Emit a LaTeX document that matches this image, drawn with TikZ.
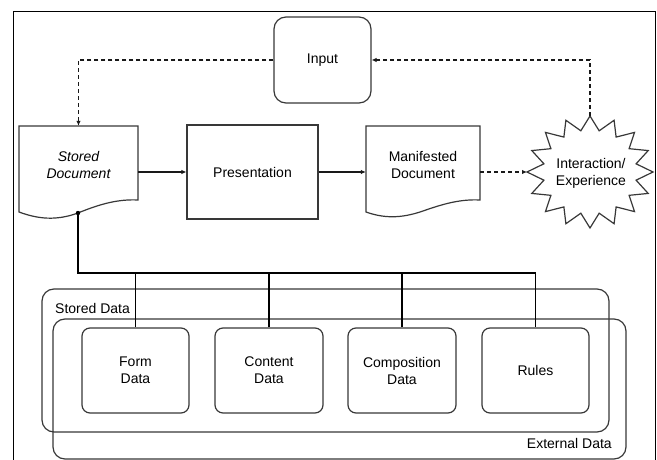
\documentclass[tikz,border=0pt]{standalone}
\usepackage{fontspec}
\setmainfont{Liberation Sans}
\usetikzlibrary{arrows.meta,calc}
\begin{document}
\begin{tikzpicture}[x=1pt,y=-1pt,
  every node/.style={font=\fontsize{14}{17}\selectfont, align=center, inner sep=0pt},
  shp/.style={draw=black!78, line width=1.2pt},
  box/.style={shp, rectangle, rounded corners=8pt},
  conn/.style={draw=black!90, line width=1.1pt, -{Latex[length=5pt,width=4.5pt]}},
  dconn/.style={conn, dash pattern=on 4pt off 3pt},
  bus/.style={draw=black, line width=1.4pt}]
\useasboundingbox (0,0) rectangle (657,460);
\clip (0,0) rectangle (657,460);
% frame
\draw[line width=0.8pt] (13,11) rectangle (655,480);

% top row
\node[box, rounded corners=12pt, minimum width=97pt, minimum height=86pt] (input) at (322.5,60) {Input};
\node[shp, rectangle, minimum width=131pt, minimum height=94pt] (pres) at (252.5,172) {Presentation};

% stored document
\draw[shp] (19,126) -- (138,126) -- (138,200) .. controls (118,199) and (100,204) .. (78,213)
  .. controls (56,221) and (38,219) .. (19,212) -- cycle;
\node[minimum width=119pt, minimum height=92pt] (sd) at (78.5,172) {};
\node[font=\fontsize{14}{17}\selectfont\itshape] (sdt) at (78.5,165) {Stored\\Document};

% manifested document
\draw[shp] (366,126) -- (480,126) -- (480,200) .. controls (460,199) and (443,204) .. (423,211)
  .. controls (400,219) and (383,218) .. (366,212) -- cycle;
\node[minimum width=114pt, minimum height=92pt] (md) at (423,172) {};
\node (mdt) at (423,165) {Manifested\\Document};

% interaction star
\draw[shp] plot[samples at={0,...,31}, variable=\k]
  ({590+ifthenelse(mod(\k,2)==0,63,47)*cos(90+\k*11.25)},
   {172-ifthenelse(mod(\k,2)==0,56,42)*sin(90+\k*11.25)}) -- cycle;
\node (ie) at (591,173) {Interaction/\\Experience};
\coordinate (ietop) at (590,116);
\coordinate (ieleft) at (527,172);

% connectors top
\draw[conn] (sd.east) -- (pres.west);
\draw[conn] (pres.east) -- (md.west);
\draw[dconn] (md.east) -- (ieleft);
\draw[dconn] (ietop) |- (input.east);
\draw[dconn] (input.west) -| (sd.north);

% data containers
\draw[shp, rounded corners=12pt] (42,289) rectangle (609,432);
\draw[shp, rounded corners=12pt] (53,319) rectangle (626,459);
\node[anchor=west] (sdl) at (55,308) {Stored Data};
\node[anchor=east] (edl) at (612,443) {External Data};

\node[box, minimum width=107pt, minimum height=85pt] (form) at (135.5,370.5) {Form\\Data};
\node[box, minimum width=108pt, minimum height=85pt] (content) at (269,370.5) {Content\\Data};
\node[box, minimum width=108pt, minimum height=85pt] (comp) at (402,370.5) {Composition\\Data};
\node[box, minimum width=107pt, minimum height=85pt] (rules) at (535.5,370.5) {Rules};

% bus
\coordinate (sdbot) at (78,213);
\coordinate (bus) at (78,273);
\draw[bus] (sdbot) -- (bus) -| (rules.north);
\foreach \n in {form,content,comp} \draw[bus] (\n.north) -- (\n.north |- bus);
\fill (sdbot) circle (2.2pt);
\end{tikzpicture}
\end{document}
